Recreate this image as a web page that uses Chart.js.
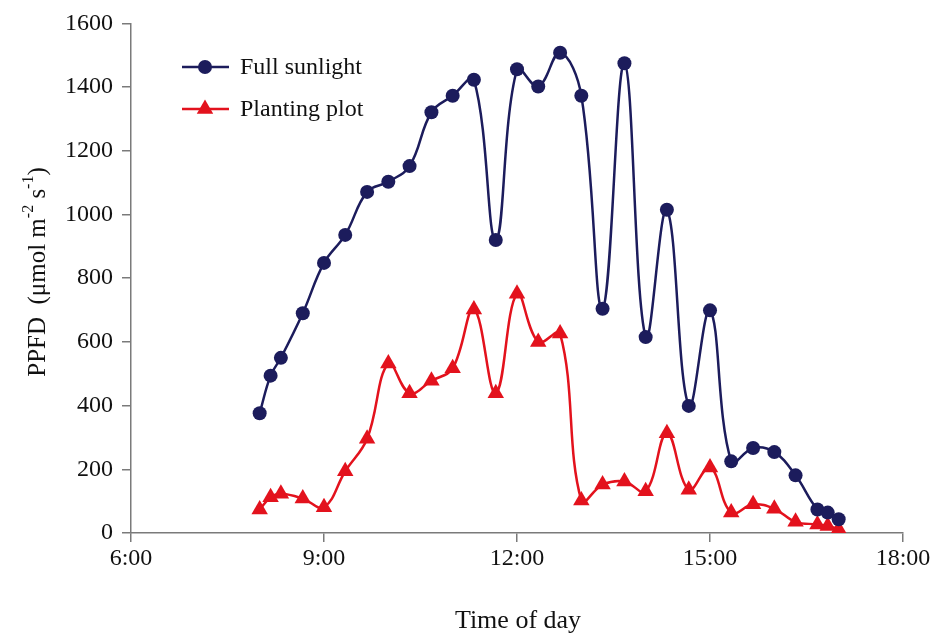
<!DOCTYPE html>
<html>
<head>
<meta charset="utf-8">
<script src="https://cdn.jsdelivr.net/npm/chart.js@4.4.1/dist/chart.umd.min.js"></script>
<style>
  body { margin: 0; background: #fff; }
  #wrap { width: 936px; height: 636px; }
</style>
</head>
<body>
<div id="wrap"><canvas id="chart" width="936" height="636"></canvas></div>
<script>
// Uhrzeit in Stunden (8.33 = 8:20)
const zeiten = [8, 8.17, 8.33, 8.67, 9, 9.33, 9.67, 10, 10.33, 10.67, 11, 11.33, 11.67, 12, 12.33,
  12.67, 13, 13.33, 13.67, 14, 14.33, 14.67, 15, 15.33, 15.67, 16, 16.33, 16.67, 16.83, 17];
const vollesLicht = [376, 494, 550, 690, 848, 936, 1071, 1103, 1152, 1321, 1373, 1423, 920, 1456, 1402,
  1508, 1373, 704, 1475, 615, 1015, 399, 699, 225, 267, 254, 181, 74, 64, 43];
const pflanzFlaeche = [74, 112, 123, 108, 81, 194, 296, 532, 439, 478, 517, 702, 439, 751, 600,
  626, 102, 152, 162, 131, 313, 136, 206, 64, 90, 76, 35, 27, 22, 12];
const serienNamen = ["Full sunlight", "Planting plot"];
const xTicks = [6, 9, 12, 15, 18];
const yTicks = [0, 200, 400, 600, 800, 1000, 1200, 1400, 1600];

const SCHRIFT = "'Liberation Serif', 'Times New Roman', serif";
const BLAU = "#1c1c5c";
const ROT = "#e3121d";
const ACHSE = "#7a7a7a";

function punkte(werte) {
  return zeiten.map((t, i) => ({ x: t, y: werte[i] }));
}

// Legende oben links im Diagramm und Achsentitel (mit Hochstellung)
const extras = {
  id: "extras",
  afterDatasetsDraw(chart) {
    const ctx = chart.ctx;
    ctx.save();

    const eintraege = [
      { y: 67, farbe: BLAU, form: "circle" },
      { y: 109, farbe: ROT, form: "triangle" }
    ];
    eintraege.forEach((e, i) => {
      ctx.strokeStyle = e.farbe;
      ctx.lineWidth = 2.5;
      ctx.beginPath();
      ctx.moveTo(182, e.y);
      ctx.lineTo(229, e.y);
      ctx.stroke();
      ctx.fillStyle = e.farbe;
      ctx.beginPath();
      if (e.form === "circle") {
        ctx.arc(205, e.y, 7, 0, Math.PI * 2);
      } else {
        const r = 9.5;
        ctx.moveTo(205, e.y - r);
        ctx.lineTo(205 + r * 0.866, e.y + r / 2);
        ctx.lineTo(205 - r * 0.866, e.y + r / 2);
        ctx.closePath();
      }
      ctx.fill();
      ctx.fillStyle = "#111";
      ctx.font = "24px " + SCHRIFT;
      ctx.textAlign = "left";
      ctx.textBaseline = "middle";
      ctx.fillText(serienNamen[i], 240, e.y + 1);
    });

    // x-Titel
    ctx.fillStyle = "#111";
    ctx.font = "26px " + SCHRIFT;
    ctx.textAlign = "center";
    ctx.textBaseline = "middle";
    ctx.fillText("Time of day", 518, 621);

    // y-Titel, gedreht
    const teile = [
      { t: "PPFD  (\u03bcmol m", hoch: false },
      { t: "-2", hoch: true },
      { t: " s", hoch: false },
      { t: "-1", hoch: true },
      { t: ")", hoch: false }
    ];
    const gross = "25px " + SCHRIFT;
    const klein = "16px " + SCHRIFT;
    let breite = 0;
    teile.forEach(p => {
      ctx.font = p.hoch ? klein : gross;
      breite += ctx.measureText(p.t).width;
    });
    ctx.translate(45, 272);
    ctx.rotate(-Math.PI / 2);
    ctx.textAlign = "left";
    ctx.textBaseline = "alphabetic";
    let x = -breite / 2;
    teile.forEach(p => {
      ctx.font = p.hoch ? klein : gross;
      ctx.fillText(p.t, x, p.hoch ? -12 : 0);
      x += ctx.measureText(p.t).width;
    });
    ctx.restore();
  }
};

new Chart(document.getElementById("chart").getContext("2d"), {
  type: "line",
  data: {
    datasets: [
      {
        label: serienNamen[0],
        data: punkte(vollesLicht),
        borderColor: BLAU,
        backgroundColor: BLAU,
        borderWidth: 2.5,
        pointStyle: "circle",
        pointRadius: 7,
        pointBorderWidth: 0,
        tension: 0.4
      },
      {
        label: serienNamen[1],
        data: punkte(pflanzFlaeche),
        borderColor: ROT,
        backgroundColor: ROT,
        borderWidth: 2.5,
        pointStyle: "triangle",
        pointRadius: 9.5,
        pointBorderWidth: 0,
        tension: 0.4
      }
    ]
  },
  options: {
    responsive: false,
    animation: false,
    devicePixelRatio: 1,
    layout: { padding: { top: 18, right: 33, bottom: 0, left: 0 } },
    plugins: {
      legend: { display: false },
      tooltip: { enabled: false }
    },
    scales: {
      x: {
        type: "linear",
        min: 6,
        max: 18,
        afterBuildTicks: s => { s.ticks = xTicks.map(v => ({ value: v })); },
        afterFit: s => { s.height = 103; },
        ticks: {
          callback: v => v + ":00",
          color: "#111",
          font: { family: SCHRIFT, size: 24 },
          padding: 2,
          maxRotation: 0
        },
        grid: { drawOnChartArea: false, tickLength: 9, color: ACHSE, lineWidth: 1.5 },
        border: { color: ACHSE, width: 1.5 }
      },
      y: {
        min: 0,
        max: 1600,
        afterBuildTicks: s => { s.ticks = yTicks.map(v => ({ value: v })); },
        afterFit: s => { s.width = 131; },
        ticks: {
          callback: v => String(v),
          color: "#111",
          font: { family: SCHRIFT, size: 24 },
          padding: 9
        },
        grid: { drawOnChartArea: false, tickLength: 9, color: ACHSE, lineWidth: 1.5 },
        border: { color: ACHSE, width: 1.5 }
      }
    }
  },
  plugins: [extras]
});
</script>
</body>
</html>
